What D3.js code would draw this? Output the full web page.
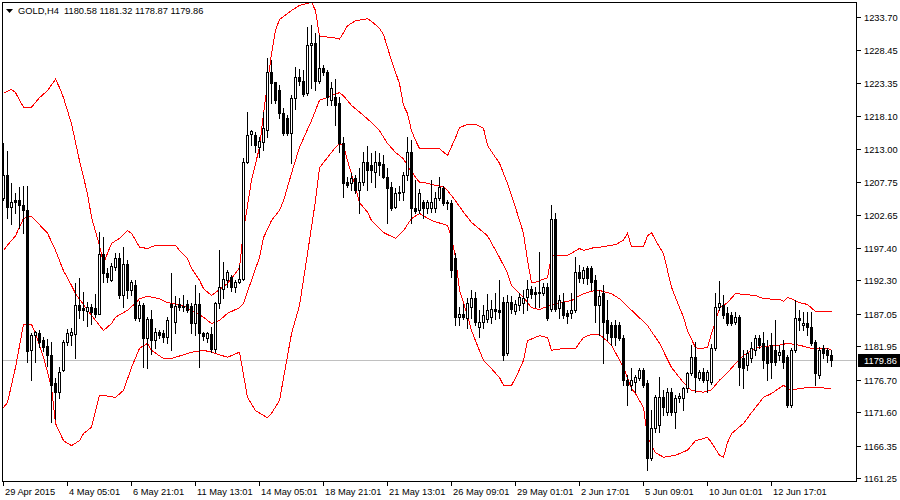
<!DOCTYPE html>
<html>
<head>
<meta charset="utf-8">
<script src="https://d3js.org/d3.v7.min.js"></script>
<style>
html, body { margin: 0; padding: 0; background: #fff; }
svg { display: block; font-family: "Liberation Sans", Arial, sans-serif; }
</style>
</head>
<body>
<div id="chart"></div>
<script>
// H4 candles, one entry per bar
var opens = [
1205.3,1208.9,1203.8,1204.9,1204.9,1204.1,1203.3,1181.4,1183.7,1184.0,
1182.9,1182.0,1180.6,1176.2,1174.8,1178.2,1182.6,1183.7,1183.9,1188.4,
1187.9,1187.5,1188.1,1187.9,1187.1,1196.4,1193.5,1192.4,1194.4,1195.8,
1190.0,1194.9,1190.8,1191.6,1186.4,1188.4,1183.2,1186.2,1182.9,1184.2,
1184.0,1183.4,1188.6,1185.8,1188.6,1188.3,1188.6,1188.3,1185.6,1188.6,
1184.0,1183.2,1183.9,1181.6,1188.7,1191.0,1192.4,1192.9,1191.3,1192.1,
1192.6,1210.9,1215.3,1215.1,1213.3,1214.1,1215.9,1225.1,1223.5,1222.2,
1218.6,1217.8,1215.5,1221.0,1224.3,1223.6,1221.8,1229.3,1229.6,1223.6,
1225.7,1225.1,1220.7,1221.1,1220.2,1213.9,1207.7,1207.6,1208.4,1206.5,
1207.7,1210.9,1210.4,1209.3,1210.9,1210.6,1208.5,1207.0,1203.8,1206.0,
1206.2,1208.9,1212.5,1203.7,1203.4,1204.6,1203.7,1203.7,1203.7,1205.3,
1206.8,1204.6,1204.4,1195.8,1186.6,1187.1,1186.4,1188.1,1189.6,1185.0,
1185.8,1186.3,1186.6,1187.8,1187.6,1188.9,1180.9,1188.9,1187.5,1188.4,
1188.8,1189.7,1191.0,1190.5,1190.3,1190.3,1191.3,1187.8,1202.0,1188.0,
1188.9,1187.2,1187.2,1187.7,1193.6,1192.7,1194.3,1194.3,1192.4,1188.4,
1190.3,1186.1,1185.3,1185.3,1185.3,1183.3,1176.7,1175.9,1176.3,1177.0,
1178.2,1176.2,1164.4,1169.1,1169.6,1174.0,1171.6,1174.8,1171.6,1173.8,
1173.8,1175.4,1177.8,1180.3,1177.0,1177.9,1176.7,1176.3,1181.7,1188.1,
1188.4,1187.2,1186.9,1185.8,1186.6,1180.1,1179.0,1180.1,1181.4,1183.3,
1182.5,1181.8,1182.2,1181.4,1180.6,1181.4,1180.3,1172.7,1181.4,1186.4,
1185.3,1185.6,1185.0,1182.6,1177.4,1181.7,1181.4,1180.58];

var highs = [
1213.9,1212.7,1207.6,1206.0,1207.0,1207.1,1207.1,1184.0,1184.3,1184.5,
1183.4,1183.1,1182.6,1177.0,1178.7,1182.9,1184.6,1184.8,1191.9,1192.7,
1190.5,1188.9,1188.6,1190.1,1199.9,1199.1,1194.2,1195.1,1196.6,1196.6,
1197.6,1195.5,1192.4,1192.4,1189.0,1188.7,1186.5,1187.7,1184.8,1184.5,
1184.5,1186.5,1193.5,1189.8,1189.6,1190.0,1189.3,1188.7,1191.6,1190.3,
1184.2,1184.2,1185.0,1188.9,1197.1,1195.2,1194.0,1193.2,1192.4,1194.8,
1211.5,1218.8,1215.9,1215.6,1214.8,1218.8,1227.3,1226.9,1223.5,1223.0,
1219.4,1218.3,1221.4,1225.8,1225.5,1225.4,1232.1,1232.4,1231.2,1230.9,
1226.2,1225.4,1223.5,1223.9,1221.2,1214.8,1208.5,1209.2,1208.9,1210.0,
1212.5,1213.4,1212.3,1212.6,1212.3,1212.0,1210.0,1207.8,1206.8,1207.2,
1209.4,1214.8,1214.4,1208.1,1206.6,1204.9,1204.9,1208.1,1206.2,1208.5,
1207.1,1204.9,1204.9,1196.6,1188.1,1188.6,1189.5,1190.8,1190.5,1187.6,
1188.4,1190.2,1189.3,1190.3,1192.3,1189.7,1190.0,1189.9,1189.3,1190.3,
1190.8,1192.4,1191.4,1191.3,1196.8,1191.9,1191.9,1204.2,1202.9,1190.0,
1190.3,1187.7,1190.3,1196.0,1194.7,1194.4,1194.6,1194.6,1193.2,1190.8,
1191.6,1189.2,1185.8,1186.1,1185.8,1183.7,1177.4,1178.5,1177.4,1178.5,
1178.5,1176.7,1171.9,1174.3,1177.1,1175.1,1175.4,1175.4,1174.3,1174.6,
1175.6,1177.9,1182.2,1182.6,1178.2,1178.5,1178.2,1182.3,1190.3,1192.2,
1190.0,1188.1,1187.3,1187.3,1186.9,1181.4,1181.4,1182.6,1183.7,1183.7,
1184.2,1182.9,1184.0,1186.1,1182.2,1182.9,1180.6,1181.7,1189.2,1187.7,
1187.3,1187.3,1187.3,1182.9,1181.8,1182.2,1181.7,1181.32];

var lows = [
1204.9,1202.1,1201.2,1202.9,1200.5,1199.8,1179.5,1176.7,1179.5,1181.8,
1181.2,1178.9,1170.1,1170.5,1173.8,1178.1,1182.1,1182.1,1180.1,1186.4,
1186.1,1185.1,1185.5,1186.5,1187.0,1192.1,1192.1,1192.2,1193.9,1189.5,
1188.1,1189.5,1190.0,1186.1,1186.0,1178.7,1178.5,1180.8,1181.7,1183.2,
1182.6,1182.5,1181.4,1184.0,1187.6,1187.5,1187.3,1184.0,1183.7,1178.7,
1182.9,1182.6,1181.0,1181.0,1187.9,1189.6,1191.3,1190.6,1190.5,1191.9,
1192.4,1210.7,1213.6,1212.5,1211.7,1212.8,1214.8,1220.2,1220.2,1217.8,
1215.1,1215.1,1210.7,1219.2,1223.0,1221.3,1221.4,1222.5,1222.2,1223.3,
1224.6,1219.9,1219.9,1216.8,1212.5,1205.4,1207.0,1206.5,1206.0,1202.9,
1207.3,1206.5,1207.7,1207.0,1208.9,1208.4,1201.3,1203.4,1203.7,1204.9,
1204.9,1208.1,1201.3,1202.9,1202.9,1202.1,1202.9,1203.0,1203.1,1204.9,
1204.1,1203.6,1192.8,1185.3,1185.3,1186.2,1184.8,1186.4,1185.3,1183.4,
1184.8,1185.8,1185.6,1186.3,1186.4,1179.8,1180.6,1187.2,1187.0,1187.7,
1187.2,1187.7,1189.5,1188.1,1188.1,1190.0,1186.1,1187.5,1187.5,1186.4,
1186.4,1185.6,1186.4,1187.3,1192.1,1191.9,1191.7,1190.8,1185.8,1183.7,
1179.3,1182.9,1182.2,1182.2,1182.9,1175.9,1172.7,1175.1,1174.8,1176.7,
1175.6,1162.5,1164.1,1168.5,1168.5,1171.2,1171.2,1171.2,1169.1,1173.2,
1171.9,1174.8,1177.4,1174.8,1176.7,1176.3,1174.8,1176.0,1181.4,1187.7,
1186.4,1185.3,1185.3,1185.5,1175.9,1175.4,1178.2,1179.5,1180.6,1181.7,
1178.5,1176.7,1177.0,1179.0,1179.8,1178.5,1172.4,1172.4,1181.1,1184.5,
1184.5,1183.7,1182.2,1175.9,1177.0,1180.1,1179.5,1178.87];

var closes = [
1208.9,1203.8,1204.7,1204.6,1204.1,1203.3,1181.2,1183.7,1184.2,1182.6,
1181.8,1180.6,1175.9,1174.8,1177.9,1182.6,1184.0,1184.2,1188.4,1187.6,
1187.6,1188.1,1187.3,1187.1,1196.4,1193.5,1192.8,1194.6,1195.8,1190.0,
1194.9,1190.8,1192.0,1186.4,1188.4,1183.2,1186.2,1182.9,1184.2,1183.7,
1183.4,1186.1,1188.1,1188.3,1188.1,1188.1,1187.6,1185.6,1188.6,1184.0,
1183.5,1184.0,1181.6,1188.7,1191.3,1192.6,1193.6,1191.3,1192.1,1192.6,
1210.9,1215.1,1215.8,1213.6,1214.2,1216.3,1225.1,1223.3,1220.7,1218.6,
1215.5,1215.5,1221.0,1224.3,1223.6,1221.6,1229.3,1229.6,1223.6,1225.7,
1225.1,1221.1,1222.5,1219.9,1213.9,1207.6,1207.3,1208.4,1206.5,1207.7,
1210.9,1209.7,1209.7,1210.9,1210.4,1208.5,1206.8,1203.7,1206.0,1206.2,
1208.9,1212.5,1203.7,1203.2,1206.0,1203.7,1204.6,1204.6,1205.3,1207.0,
1204.4,1204.4,1193.9,1186.6,1187.1,1186.6,1188.7,1189.6,1185.8,1185.8,
1186.9,1187.6,1187.8,1187.5,1187.3,1180.6,1188.9,1187.8,1188.6,1189.7,
1189.5,1191.0,1190.2,1190.2,1190.5,1191.3,1186.4,1202.0,1187.8,1189.2,
1186.9,1186.7,1187.7,1193.6,1192.7,1193.9,1192.7,1192.1,1188.4,1189.9,
1185.8,1184.0,1183.4,1183.4,1183.3,1176.7,1175.9,1176.7,1177.1,1178.2,
1175.9,1164.4,1169.1,1174.0,1174.0,1172.4,1174.8,1171.6,1173.8,1174.1,
1175.4,1177.8,1180.3,1177.1,1177.9,1176.7,1177.9,1181.7,1188.1,1188.8,
1186.9,1185.6,1185.6,1186.6,1178.7,1178.5,1180.9,1181.7,1183.3,1182.2,
1179.8,1179.3,1179.5,1179.5,1181.1,1179.5,1172.7,1181.4,1186.4,1186.1,
1185.6,1185.0,1182.5,1177.8,1181.4,1180.9,1180.6,1179.86];

// Bollinger bands: [bar, price]
var upperBand = [[0,1221.8],[2,1222.4],[3,1221.9],[4,1220.7],[5,1219.6],[7,1219.6],[9,1221.1],[11,1222.2],[13,1224.0],[14,1222.7],[15,1221.1],[17,1217.0],[19,1211.2],[21,1206.0],[22,1202.3],[24,1197.9],[25,1195.1],[27,1198.2],[29,1199.0],[31,1200.2],[32,1199.8],[34,1197.6],[36,1197.4],[38,1197.9],[43,1197.9],[44,1197.1],[46,1195.8],[47,1194.3],[49,1192.4],[50,1191.1],[52,1190.0],[53,1190.5],[56,1191.9],[58,1193.5],[59,1194.4],[60,1200.2],[62,1208.1],[64,1213.3],[65,1218.6],[67,1228.0],[68,1231.7],[69,1233.4],[72,1234.8],[74,1235.6],[77,1236.1],[78,1234.8],[79,1230.7],[82,1230.6],[84,1230.3],[85,1231.3],[86,1232.4],[88,1233.2],[91,1233.5],[92,1233.1],[94,1232.0],[95,1231.0],[96,1229.0],[97,1226.9],[98,1225.1],[99,1223.3],[100,1219.9],[101,1218.6],[102,1215.9],[103,1214.4],[104,1213.1],[109,1213.1],[111,1212.0],[113,1214.8],[114,1216.4],[116,1216.9],[118,1216.9],[120,1216.3],[121,1213.6],[123,1211.7],[124,1210.8],[126,1207.6],[128,1203.8],[130,1199.8],[131,1195.5],[132,1192.1],[133,1192.1],[136,1192.8],[137,1196.3],[141,1196.3],[144,1197.4],[145,1197.1],[148,1197.6],[149,1197.6],[153,1198.0],[155,1198.7],[156,1199.8],[157,1197.7],[160,1197.7],[161,1199.4],[162,1199.9],[163,1198.7],[165,1196.6],[167,1191.3],[168,1189.7],[170,1186.6],[171,1184.5],[173,1181.8],[174,1181.7],[176,1181.8],[177,1184.0],[179,1188.0],[181,1188.9],[183,1190.3],[185,1190.2],[188,1190.0],[190,1189.5],[194,1189.4],[195,1189.1],[196,1189.7],[197,1189.5],[199,1188.9],[201,1188.6],[203,1187.5],[207,1187.5]];

var middleBand = [[0,1197.1],[1,1197.9],[3,1199.4],[5,1202.1],[6,1202.4],[7,1202.4],[8,1201.8],[11,1199.8],[13,1197.1],[15,1193.9],[17,1191.6],[18,1190.3],[21,1187.7],[23,1186.1],[25,1184.5],[27,1185.6],[28,1186.6],[31,1187.7],[33,1188.8],[34,1189.5],[36,1189.9],[39,1189.5],[41,1188.9],[45,1188.4],[47,1187.7],[50,1186.6],[52,1185.6],[54,1186.1],[56,1187.2],[59,1188.1],[60,1188.8],[62,1192.4],[64,1196.0],[65,1199.1],[67,1201.8],[69,1203.4],[70,1204.9],[72,1209.2],[74,1213.3],[77,1217.5],[79,1220.7],[81,1221.1],[82,1221.4],[84,1221.9],[85,1221.4],[87,1219.9],[90,1218.3],[92,1217.2],[94,1215.9],[96,1213.9],[98,1212.5],[100,1211.5],[101,1210.4],[103,1208.6],[104,1207.8],[105,1207.8],[108,1207.3],[110,1207.1],[111,1206.5],[113,1204.9],[115,1203.1],[117,1201.5],[121,1199.4],[124,1196.0],[126,1193.5],[127,1191.6],[130,1189.7],[132,1188.1],[134,1187.8],[136,1188.3],[139,1188.9],[142,1189.2],[144,1190.0],[146,1190.5],[148,1190.8],[149,1190.8],[152,1190.3],[154,1189.5],[157,1187.7],[161,1185.3],[164,1182.5],[167,1178.7],[170,1176.3],[172,1175.1],[175,1174.8],[177,1175.2],[179,1176.7],[181,1177.9],[183,1179.3],[185,1180.6],[188,1181.7],[190,1182.0],[194,1182.2],[196,1182.5],[199,1182.2],[202,1181.7],[206,1181.7],[207,1181.4]];

var lowerBand = [[0,1172.4],[1,1173.2],[3,1178.7],[5,1185.5],[7,1185.5],[8,1184.0],[10,1180.3],[12,1175.6],[13,1169.9],[15,1167.2],[17,1166.4],[19,1167.2],[20,1168.3],[22,1169.3],[24,1174.3],[25,1174.3],[28,1174.0],[30,1175.1],[32,1178.7],[34,1181.7],[36,1182.5],[37,1181.4],[40,1180.1],[42,1180.1],[47,1181.1],[50,1181.4],[52,1181.1],[56,1180.3],[59,1181.1],[61,1174.0],[63,1171.9],[66,1170.8],[67,1171.5],[69,1173.5],[72,1184.0],[74,1188.4],[76,1196.6],[78,1204.9],[79,1210.1],[81,1211.7],[83,1213.3],[84,1213.9],[85,1213.6],[86,1211.2],[88,1207.0],[89,1204.6],[91,1203.1],[92,1201.8],[95,1199.9],[98,1199.0],[100,1200.2],[102,1202.1],[104,1202.9],[107,1201.8],[111,1201.0],[112,1199.1],[113,1196.0],[114,1190.8],[116,1186.9],[117,1184.5],[118,1182.9],[120,1179.8],[122,1178.5],[124,1177.1],[125,1175.9],[127,1175.9],[128,1177.0],[130,1179.8],[131,1182.9],[134,1183.7],[136,1183.4],[137,1181.4],[140,1181.7],[143,1181.7],[145,1183.4],[147,1183.9],[149,1183.9],[152,1182.2],[155,1178.7],[157,1175.4],[158,1174.6],[160,1172.4],[161,1167.7],[163,1165.3],[165,1164.6],[168,1164.9],[171,1165.7],[173,1167.2],[176,1167.7],[177,1166.9],[179,1164.9],[180,1164.6],[181,1166.9],[182,1168.3],[185,1169.9],[187,1171.6],[190,1174.0],[192,1174.6],[195,1175.9],[197,1175.1],[199,1175.4],[202,1175.6],[207,1175.4]];

var priceTicks = [1233.70, 1228.45, 1223.35, 1218.10, 1213.00, 1207.75, 1202.65,
  1197.40, 1192.30, 1187.05, 1181.95, 1176.70, 1171.60, 1166.35, 1161.25];
var timeTickBars = [0, 16, 32, 48, 64, 80, 96, 112, 128, 144, 160, 176, 192];
var timeTickLabels = ['29 Apr 2015', '4 May 05:01', '6 May 21:01', '11 May 13:01',
  '14 May 05:01', '18 May 21:01', '21 May 13:01', '26 May 09:01', '29 May 01:01',
  '2 Jun 17:01', '5 Jun 09:01', '10 Jun 01:01', '12 Jun 17:01'];
var symbol = 'GOLD,H4';
var lastBar = [1180.58, 1181.32, 1178.87, 1179.86];
var lastPrice = 1179.86;

var width = 900, height = 500;
var plotL = 2, plotT = 2, plotR = 857, plotB = 482;

var x = d3.scaleLinear().domain([0, 207]).range([3, 831]);
var y = d3.scaleLinear().domain([1161.25, 1233.70]).range([478, 17]);
var py = function (v) { return Math.round(y(v)); };

var candles = opens.map(function (o, i) {
  return { i: i, o: o, h: highs[i], l: lows[i], c: closes[i] };
});

var svg = d3.select('#chart')
  .append('svg')
    .attr('width', width)
    .attr('height', height);

svg.append('rect')
  .attr('width', width)
  .attr('height', height)
  .attr('fill', '#ffffff');

svg.append('defs')
  .append('clipPath')
    .attr('id', 'plot')
  .append('rect')
    .attr('x', plotL + 1)
    .attr('y', plotT + 1)
    .attr('width', plotR - plotL - 1)
    .attr('height', plotB - plotT - 1);

var plot = svg.append('g')
  .attr('clip-path', 'url(#plot)')
  .attr('shape-rendering', 'crispEdges');

// current price line
plot.append('line')
  .attr('x1', plotL)
  .attr('x2', plotR)
  .attr('y1', py(lastPrice) + 0.5)
  .attr('y2', py(lastPrice) + 0.5)
  .attr('stroke', '#c0c0c0')
  .attr('stroke-width', 1);

var line = d3.line()
  .x(function (d) { return x(d[0]) + 0.5; })
  .y(function (d) { return y(d[1]) + 0.5; });

plot.selectAll('path.band')
  .data([upperBand, middleBand, lowerBand])
  .enter().append('path')
    .classed('band', true)
    .attr('d', line)
    .attr('fill', 'none')
    .attr('stroke', '#ff0000')
    .attr('stroke-width', 1);

var g = plot.selectAll('g.candle')
  .data(candles)
  .enter().append('g')
    .classed('candle', true);

g.append('rect')
  .attr('x', function (d) { return Math.round(x(d.i)); })
  .attr('y', function (d) { return py(d.h); })
  .attr('width', 1)
  .attr('height', function (d) { return py(d.l) - py(d.h) + 1; })
  .attr('fill', '#000000');

g.append('rect')
  .attr('x', function (d) { return Math.round(x(d.i)) - 1; })
  .attr('y', function (d) { return py(Math.max(d.o, d.c)); })
  .attr('width', 3)
  .attr('height', function (d) { return py(Math.min(d.o, d.c)) - py(Math.max(d.o, d.c)) + 1; })
  .attr('fill', '#000000');

g.filter(function (d) { return d.c > d.o && py(d.o) - py(d.c) >= 2; })
  .append('rect')
    .attr('x', function (d) { return Math.round(x(d.i)); })
    .attr('y', function (d) { return py(d.c) + 1; })
    .attr('width', 1)
    .attr('height', function (d) { return py(d.o) - py(d.c) - 1; })
    .attr('fill', '#ffffff');

// frame
svg.append('rect')
  .attr('x', plotL + 0.5)
  .attr('y', plotT + 0.5)
  .attr('width', plotR - plotL - 1)
  .attr('height', plotB - plotT - 1)
  .attr('fill', 'none')
  .attr('stroke', '#000000')
  .attr('shape-rendering', 'crispEdges');

// price scale
var pt = svg.selectAll('g.ptick')
  .data(priceTicks)
  .enter().append('g')
    .classed('ptick', true);

pt.append('line')
  .attr('x1', plotR - 0.5)
  .attr('x2', plotR + 4)
  .attr('y1', function (d) { return py(d) + 0.5; })
  .attr('y2', function (d) { return py(d) + 0.5; })
  .attr('stroke', '#000000')
  .attr('shape-rendering', 'crispEdges');

pt.append('text')
  .attr('x', plotR + 7)
  .attr('y', function (d) { return py(d) + 4; })
  .attr('font-size', '9.3px')
  .attr('fill', '#000000')
  .text(function (d) { return d.toFixed(2); });

svg.append('rect')
  .attr('x', plotR + 1)
  .attr('y', py(lastPrice) - 6)
  .attr('width', width - plotR - 1)
  .attr('height', 13)
  .attr('fill', '#000000');

svg.append('text')
  .attr('x', plotR + 7)
  .attr('y', py(lastPrice) + 4)
  .attr('font-size', '9.3px')
  .attr('fill', '#ffffff')
  .text(lastPrice.toFixed(2));

// time scale
var tt = svg.selectAll('g.ttick')
  .data(timeTickBars)
  .enter().append('g')
    .classed('ttick', true);

tt.append('line')
  .attr('x1', function (d) { return Math.round(x(d)) + 0.5; })
  .attr('x2', function (d) { return Math.round(x(d)) + 0.5; })
  .attr('y1', plotB - 0.5)
  .attr('y2', plotB + 4)
  .attr('stroke', '#000000')
  .attr('shape-rendering', 'crispEdges');

tt.append('text')
  .attr('x', function (d) { return Math.round(x(d)) + 2; })
  .attr('y', 495)
  .attr('font-size', '9.3px')
  .attr('fill', '#000000')
  .text(function (d, i) { return timeTickLabels[i]; });

// header
svg.append('path')
  .attr('d', 'M6,9L13,9L9.5,13Z')
  .attr('fill', '#000000');

svg.append('text')
  .attr('x', 18)
  .attr('y', 14)
  .attr('font-size', '9.3px')
  .attr('fill', '#000000')
  .style('white-space', 'pre')
  .text(symbol + '  ' + lastBar.map(function (v) { return v.toFixed(2); }).join(' '));
</script>
</body>
</html>
